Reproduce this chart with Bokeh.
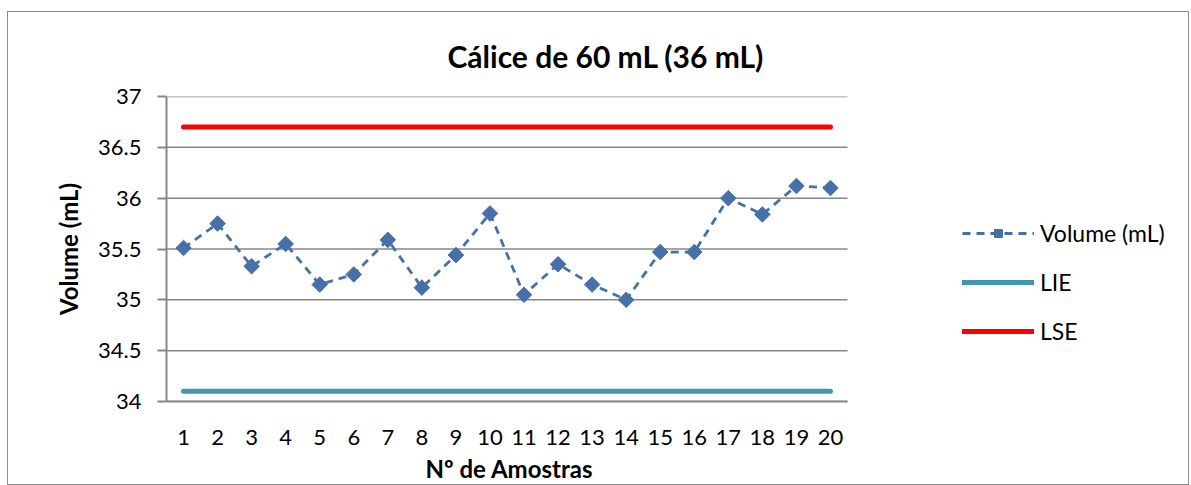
import math
from bokeh.plotting import figure
from bokeh.models import (Range1d, FixedTicker, CustomJSTickFormatter, Legend, LegendItem,
                          Title)
from bokeh.embed import file_html
from bokeh.resources import INLINE

amostras = list(range(1, 21))
volume = [35.51, 35.75, 35.33, 35.55, 35.15, 35.25, 35.59, 35.12, 35.44, 35.85,
          35.05, 35.35, 35.15, 35.00, 35.47, 35.47, 36.00, 35.84, 36.12, 36.10]
lie = [34.1] * 20
lse = [36.7] * 20
y_ticks = [34, 34.5, 35, 35.5, 36, 36.5, 37]

FONT = "Lato"
GRAY = "#878787"

# layout (pixels)
W, H = 1182, 474
LEFT, TOP, BOTTOM = 158, 84, 85
PLOT_W = 681                      # width of the category area
x_lo = min(amostras) - 0.5
x_hi = max(amostras) + 0.5
unit = PLOT_W / (x_hi - x_lo)
x_end = x_lo + (W - LEFT) / unit  # frame extends under the legend

p = figure(width=W, height=H, output_backend="svg", toolbar_location=None,
           x_range=Range1d(x_lo, x_end), y_range=Range1d(34, 37),
           min_border_left=LEFT, min_border_top=TOP, min_border_right=0,
           min_border_bottom=BOTTOM)
p.styles = {"border": "1px solid #8c8c8c", "margin-left": "7px", "margin-top": "11px"}
p.outline_line_color = None

p.title.text = "Cálice de 60 mL (36 mL)"
p.title.text_font = FONT
p.title.text_font_size = "30px"
p.title.text_font_style = "bold"
p.title.text_color = "#000000"
p.title.align = "left"
p.title.offset = 281
p.title.standoff = 45

p.xgrid.grid_line_color = None
p.ygrid.grid_line_color = None
p.yaxis.ticker = FixedTicker(ticks=y_ticks)
p.xaxis.ticker = FixedTicker(ticks=amostras)
p.yaxis.formatter = CustomJSTickFormatter(code="return tick.toString();")
p.xaxis.bounds = (x_lo, x_hi)

# horizontal gridlines limited to the category area
p.segment(x0=[x_lo] * len(y_ticks), x1=[x_hi] * len(y_ticks), y0=y_ticks, y1=y_ticks,
          line_color=GRAY, line_width=1.5)

for ax in (p.xaxis[0], p.yaxis[0]):
    ax.axis_line_color = GRAY
    ax.axis_line_width = 2
    ax.major_label_text_font = FONT
    ax.major_label_text_font_size = "22px"
    ax.major_label_text_color = "#000000"
    ax.axis_label_text_font = FONT
    ax.axis_label_text_font_size = "24px"
    ax.axis_label_text_font_style = "bold"
    ax.axis_label_text_color = "#000000"
    ax.minor_tick_line_color = None

p.yaxis.major_tick_line_color = GRAY
p.yaxis.major_tick_line_width = 2
p.yaxis.major_tick_out = 9
p.yaxis.major_tick_in = 0
p.yaxis.major_label_standoff = 16
p.yaxis.axis_label = "Volume (mL)"
p.yaxis.axis_label_standoff = 12

p.xaxis.major_tick_line_color = None
p.xaxis.major_tick_out = 0
p.xaxis.major_tick_in = 0
p.xaxis.major_label_standoff = 28

# x axis title, centred under the category area
xt = Title(text="Nº de Amostras", align="left", offset=259, standoff=8,
           text_font=FONT, text_font_size="24px", text_font_style="bold",
           text_color="#000000")
p.add_layout(xt, "below")

BLUE = "#4770A8"
r_line = p.line(amostras, volume, line_color=BLUE, line_width=2.8, line_dash="8 6")
r_pts = p.scatter(amostras, volume, marker="square", size=11, angle=math.pi / 4,
                  fill_color=BLUE, line_color=BLUE)
r_lie = p.line(amostras, lie, line_color="#4097AE", line_width=5, line_cap="round")
r_lse = p.line(amostras, lse, line_color="#FF0000", line_width=5, line_cap="round")

legend = Legend(items=[
    LegendItem(label="Volume (mL)", renderers=[r_line, r_pts]),
    LegendItem(label="LIE", renderers=[r_lie]),
    LegendItem(label="LSE", renderers=[r_lse]),
], location=(796, 56))
legend.border_line_color = None
legend.background_fill_alpha = 0
legend.padding = 0
legend.margin = 0
legend.glyph_width = 72
legend.glyph_height = 20
legend.label_height = 20
legend.spacing = 21
legend.label_standoff = 6
legend.label_text_font = FONT
legend.label_text_font_size = "23px"
legend.label_text_color = "#000000"
p.add_layout(legend, "center")

open("out.html", "w").write(file_html(p, INLINE))
